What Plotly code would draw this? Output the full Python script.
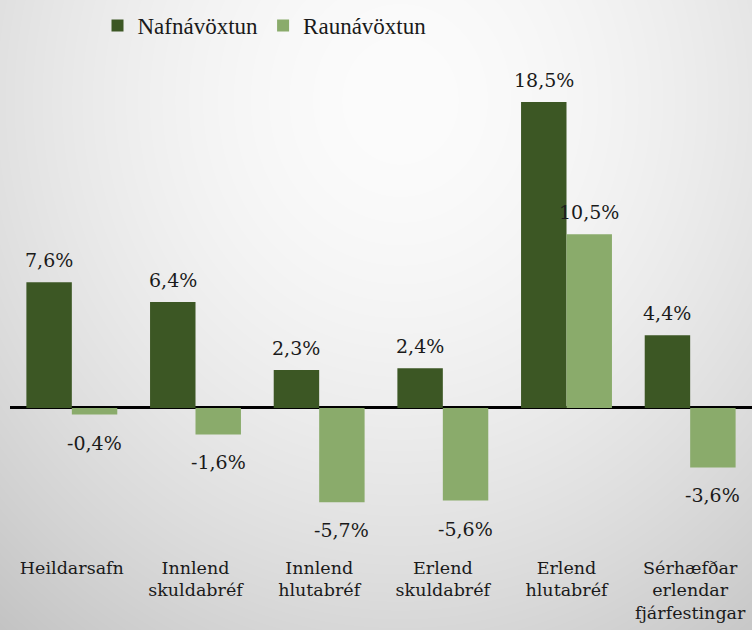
import base64, struct, zlib
import numpy as np
import plotly.graph_objects as go

categories = ["Heildarsafn", "Innlend<br>skuldabréf", "Innlend<br>hlutabréf",
              "Erlend<br>skuldabréf", "Erlend<br>hlutabréf",
              "Sérhæfðar<br>erlendar<br>fjárfestingar"]
nafn = [7.6, 6.4, 2.3, 2.4, 18.5, 4.4]
raun = [-0.4, -1.6, -5.7, -5.6, 10.5, -3.6]
series_names = ["Nafnávöxtun", "Raunávöxtun"]

DARK = "#3c5724"
LIGHT = "#8aab6b"
FONT = "DejaVu Serif"

W, H = 752, 630
ML, MR, MT, MB = 10, 0, 60, 78
PW, PH = W - ML - MR, H - MT - MB


def make_bg():
    yy, xx = np.mgrid[0:H, 0:W].astype(float)
    r = np.sqrt(((xx - 400) / 580.0) ** 2 + ((yy - 100) / 640.0) ** 2)
    v = 252 - 50 * np.clip(r, 0, 1.2) ** 1.7
    v = np.clip(v, 0, 255).astype(np.uint8)
    img = np.stack([v, v, v], axis=-1)
    raw = b"".join(b"\x00" + img[i].tobytes() for i in range(H))

    def chunk(t, d):
        c = struct.pack(">I", len(d)) + t + d
        return c + struct.pack(">I", zlib.crc32(t + d) & 0xffffffff)

    png = b"\x89PNG\r\n\x1a\n" + chunk(b"IHDR", struct.pack(">IIBBBBB", W, H, 8, 2, 0, 0, 0)) \
        + chunk(b"IDAT", zlib.compress(raw, 9)) + chunk(b"IEND", b"")
    return "data:image/png;base64," + base64.b64encode(png).decode()


def fmt(v):
    return f"{v:.1f}%".replace(".", ",")


fig = go.Figure()
fig.add_trace(go.Bar(x=categories, y=nafn, name=series_names[0], marker_color=DARK,
                     marker_line_width=0))
fig.add_trace(go.Bar(x=categories, y=raun, name=series_names[1], marker_color=LIGHT,
                     marker_line_width=0))

bargap = 0.265
half = PW / len(categories) * (1 - bargap) / 4
annotations = []
for series, sign in ((nafn, -1), (raun, 1)):
    for c, v in zip(categories, series):
        annotations.append(dict(x=c, y=v, xref="x", yref="y", text=fmt(v), showarrow=False,
                                xshift=sign * half, yshift=22 if v >= 0 else -28,
                                yanchor="middle",
                                font=dict(family=FONT, size=19, color="#1a1a1a")))

fig.update_layout(
    width=W, height=H,
    margin=dict(l=ML, r=MR, t=MT, b=MB, autoexpand=False),
    barmode="group", bargap=bargap, bargroupgap=0,
    paper_bgcolor="#e6e6e6", plot_bgcolor="rgba(0,0,0,0)",
    showlegend=True,
    legend=dict(orientation="h", x=0.343, xanchor="center", y=1 + 56 / PH, yanchor="top",
                font=dict(family="Liberation Serif", size=23, color="#1a1a1a"),
                bgcolor="rgba(0,0,0,0)", itemwidth=30, tracegroupgap=0),
    images=[dict(source=make_bg(), xref="paper", yref="paper", x=-ML / PW, y=1 + MT / PH,
                 sizex=W / PW, sizey=H / PH, sizing="stretch", layer="below",
                 xanchor="left", yanchor="top")],
    annotations=annotations,
    xaxis=dict(showline=False, showgrid=False, ticks="", ticklen=0, automargin=False,
               ticklabelstandoff=3,
               tickfont=dict(family=FONT, size=17.5, color="#1a1a1a")),
    yaxis=dict(range=[-8.71, 21.04], showgrid=False, showticklabels=False, ticks="",
               automargin=False,
               zeroline=True, zerolinecolor="#000000", zerolinewidth=3, showline=False),
)

fig.write_html("out.html", config={"displayModeBar": False},
               post_script="document.body.style.margin='0';document.body.style.overflow='hidden';")
